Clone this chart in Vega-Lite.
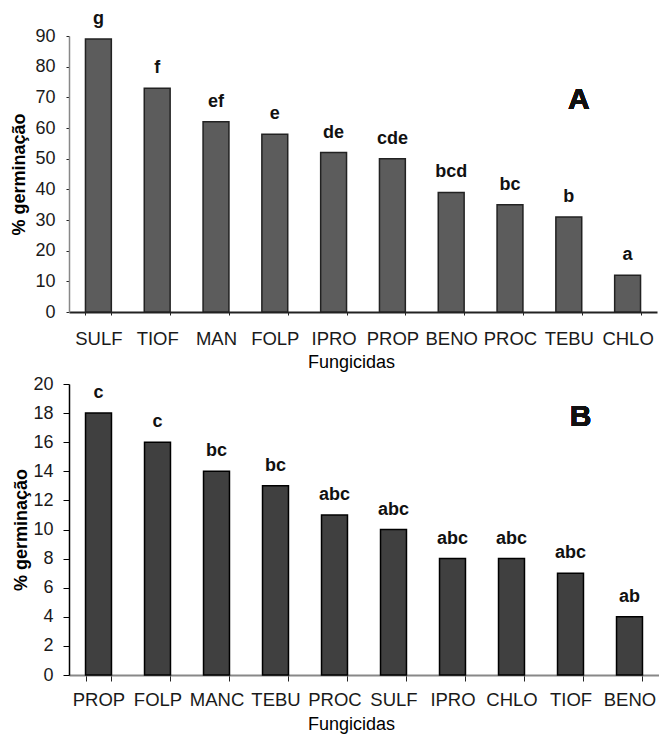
{
  "$schema": "https://vega.github.io/schema/vega-lite/v6.json",
  "background": "white",
  "padding": {"left": 10, "top": 10, "right": 0, "bottom": 0},
  "spacing": 3,
  "config": {
    "font": "Liberation Sans",
    "view": {"stroke": null},
    "axis": {"grid": false, "labelFont": "Liberation Sans", "titleFont": "Liberation Sans", "labelColor": "#1a1a1a", "titleColor": "#000"}
  },
  "datasets": {
    "a": [
      {"fungicida": "SULF", "germ": 89, "letra": "g"},
      {"fungicida": "TIOF", "germ": 73, "letra": "f"},
      {"fungicida": "MAN", "germ": 62, "letra": "ef"},
      {"fungicida": "FOLP", "germ": 58, "letra": "e"},
      {"fungicida": "IPRO", "germ": 52, "letra": "de"},
      {"fungicida": "PROP", "germ": 50, "letra": "cde"},
      {"fungicida": "BENO", "germ": 39, "letra": "bcd"},
      {"fungicida": "PROC", "germ": 35, "letra": "bc"},
      {"fungicida": "TEBU", "germ": 31, "letra": "b"},
      {"fungicida": "CHLO", "germ": 12, "letra": "a"}
    ],
    "b": [
      {"fungicida": "PROP", "germ": 18, "letra": "c"},
      {"fungicida": "FOLP", "germ": 16, "letra": "c"},
      {"fungicida": "MANC", "germ": 14, "letra": "bc"},
      {"fungicida": "TEBU", "germ": 13, "letra": "bc"},
      {"fungicida": "PROC", "germ": 11, "letra": "abc"},
      {"fungicida": "SULF", "germ": 10, "letra": "abc"},
      {"fungicida": "IPRO", "germ": 8, "letra": "abc"},
      {"fungicida": "CHLO", "germ": 8, "letra": "abc"},
      {"fungicida": "TIOF", "germ": 7, "letra": "abc"},
      {"fungicida": "BENO", "germ": 4, "letra": "ab"}
    ]
  },
  "vconcat": [
    {
      "width": 588,
      "height": 276,
      "data": {"name": "a"},
      "encoding": {
        "x": {"field": "fungicida", "type": "nominal", "sort": null,
          "scale": {"paddingInner": 0.56, "paddingOuter": 0.28},
          "axis": {"title": "Fungicidas", "labelAngle": 0, "labelFontSize": 18.5, "titleFontSize": 18, "titleFontWeight": "normal",
            "domainColor": "#222", "domainWidth": 2, "tickColor": "#222", "tickSize": 3, "tickBand": "extent", "labelPadding": 14,
            "titlePadding": 6, "titleX": 282}},
        "y": {"field": "germ", "type": "quantitative",
          "scale": {"domain": [0, 90], "nice": false},
          "axis": {"title": "% germinação", "values": [0,10,20,30,40,50,60,70,80,90], "labelFontSize": 18, "titleFontSize": 18, "titleFontWeight": "bold",
            "domainColor": "#888", "domainWidth": 1.5, "tickColor": "#222", "tickSize": 3, "labelPadding": 11, "titlePadding": 6}}
      },
      "layer": [
        {"mark": {"type": "bar", "fill": "#5c5c5c", "stroke": "#222", "strokeWidth": 1.5}},
        {"mark": {"type": "text", "fontSize": 18, "fontWeight": "bold", "baseline": "alphabetic", "dy": -15, "fill": "#111"},
          "encoding": {"text": {"field": "letra"}}},
        {"mark": {"type": "text", "fontSize": 30, "fontWeight": "bold", "baseline": "middle", "dx": 10, "fill": "#111", "strokeWidth": 0},
          "encoding": {"x": {"datum": "TEBU"}, "y": {"datum": 69}, "text": {"value": "A"}}}
      ]
    },
    {
      "width": 590,
      "height": 291,
      "data": {"name": "b"},
      "encoding": {
        "x": {"field": "fungicida", "type": "nominal", "sort": null,
          "scale": {"paddingInner": 0.56, "paddingOuter": 0.28},
          "axis": {"title": "Fungicidas", "labelAngle": 0, "labelFontSize": 18.5, "titleFontSize": 18, "titleFontWeight": "normal",
            "domainColor": "#888", "domainWidth": 2, "tickColor": "#222", "tickSize": 6, "tickBand": "extent", "labelPadding": 9,
            "titlePadding": 7, "titleX": 282}},
        "y": {"field": "germ", "type": "quantitative",
          "scale": {"domain": [0, 20], "nice": false},
          "axis": {"title": "% germinação", "values": [0,2,4,6,8,10,12,14,16,18,20], "labelFontSize": 18, "titleFontSize": 18, "titleFontWeight": "bold",
            "domainColor": "#000", "domainWidth": 1.5, "tickColor": "#000", "tickSize": 6, "labelPadding": 10, "titlePadding": 2}}
      },
      "layer": [
        {"mark": {"type": "bar", "fill": "#404040", "stroke": "#000", "strokeWidth": 1.5}},
        {"mark": {"type": "text", "fontSize": 18, "fontWeight": "bold", "baseline": "alphabetic", "dy": -15, "fill": "#111"},
          "encoding": {"text": {"field": "letra"}}},
        {"mark": {"type": "text", "fontSize": 30, "fontWeight": "bold", "baseline": "middle", "dx": 10, "fill": "#111", "strokeWidth": 0},
          "encoding": {"x": {"datum": "TIOF"}, "y": {"datum": 17.7}, "text": {"value": "B"}}}
      ]
    }
  ]
}
